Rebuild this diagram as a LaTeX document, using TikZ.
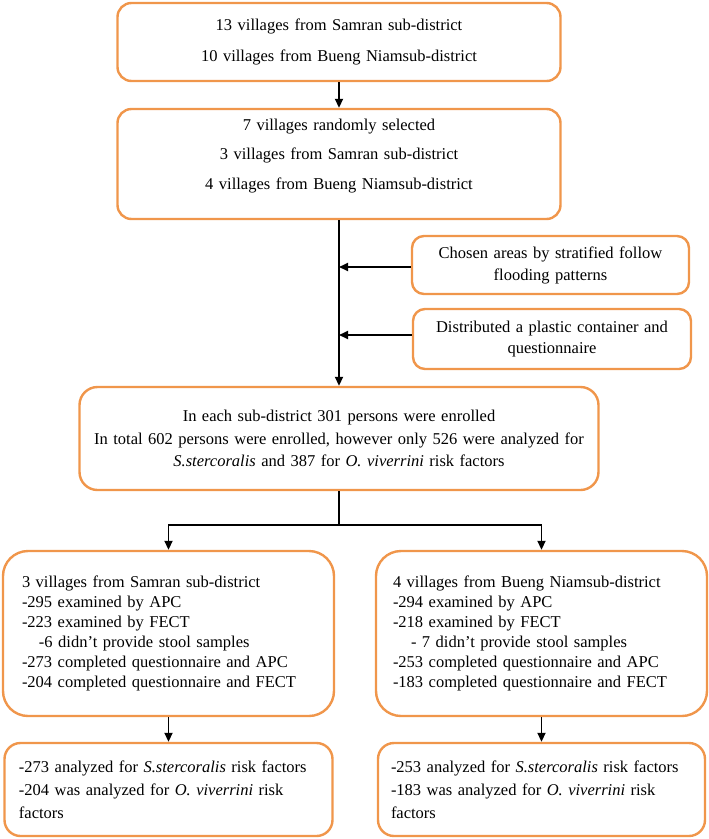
\documentclass[tikz,border=0pt]{standalone}
\usepackage{fontspec}
\setmainfont{Liberation Serif}
\usetikzlibrary{arrows.meta}
\definecolor{boxorange}{RGB}{240,150,75}
\begin{document}
\begin{tikzpicture}[x=1pt,y=-1pt,
  box/.style={draw=boxorange, line width=2.4pt, fill=white, inner sep=0pt, align=center},
  conn/.style={line width=1.8pt, draw=black},
  arr/.style={conn, -{Triangle[length=9pt,width=8pt]}}]
\useasboundingbox (0,0) rectangle (709,839);

\node[box, rounded corners=14pt, minimum width=443pt, minimum height=78pt, text width=420pt,
  font=\fontsize{16.5}{31}\selectfont] (b1) at (339,42)
  {13 villages from Samran sub-district\\10 villages from Bueng Niamsub-district};

\node[box, rounded corners=14pt, minimum width=443pt, minimum height=110pt, text width=420pt,
  font=\fontsize{16.5}{29.5}\selectfont] (b2) at (339,164)
  {7 villages randomly selected\\3 villages from Samran sub-district\\4 villages from Bueng Niamsub-district\\[-9.5pt]~};

\node[box, rounded corners=12pt, minimum width=277pt, minimum height=58pt, text width=265pt,
  font=\fontsize{16.5}{22}\selectfont] (s1) at (550.5,265)
  {Chosen areas by stratified follow\\flooding patterns};

\node[box, rounded corners=12pt, minimum width=278pt, minimum height=60pt, text width=266pt,
  font=\fontsize{16.5}{21}\selectfont] (s2) at (552,339)
  {Distributed a plastic container and\\questionnaire};

\node[box, rounded corners=18pt, minimum width=519pt, minimum height=103pt, text width=505pt,
  font=\fontsize{16.5}{22.5}\selectfont] (b3) at (339,438.5)
  {In each sub-district 301 persons were enrolled\\In total 602 persons were enrolled, however only 526 were analyzed for\\\textit{S.stercoralis} and 387 for \textit{O. viverrini} risk factors};

\node[box, rounded corners=25pt, minimum width=331pt, minimum height=165pt, text width=293pt, align=left,
  font=\fontsize{16.5}{20.1}\selectfont] (ml) at (168.5,633.5)
  {3 villages from Samran sub-district\\-295 examined by APC\\-223 examined by FECT\\\hspace*{17pt}-6 didn't provide stool samples\\-273 completed questionnaire and APC\\-204 completed questionnaire and FECT};

\node[box, rounded corners=25pt, minimum width=331pt, minimum height=165pt, text width=297pt, align=left,
  font=\fontsize{16.5}{20.1}\selectfont] (mr) at (541.5,633.5)
  {4 villages from Bueng Niamsub-district\\-294 examined by APC\\-218 examined by FECT\\\hspace*{18pt}- 7 didn't provide stool samples\\-253 completed questionnaire and APC\\-183 completed questionnaire and FECT};

\node[box, rounded corners=16pt, minimum width=328pt, minimum height=93pt, text width=299pt, align=left,
  font=\fontsize{16.5}{23}\selectfont] (bl) at (168.5,789.5)
  {-273 analyzed for \textit{S.stercoralis} risk factors\\-204 was analyzed for \textit{O. viverrini} risk\\factors};

\node[box, rounded corners=16pt, minimum width=327pt, minimum height=93pt, text width=301pt, align=left,
  font=\fontsize{16.5}{23}\selectfont] (br) at (541.5,789.5)
  {-253 analyzed for \textit{S.stercoralis} risk factors\\-183 was analyzed for \textit{O. viverrini} risk\\factors};

\draw[arr] (b1.south) -- (b2.north);
\draw[arr] (b2.south) -- (b3.north);
\path ([yshift=-2pt]s1.west) coordinate (s1w);
\path ([yshift=4pt]s2.west) coordinate (s2w);
\draw[arr] (s1w) -- (s1w -| b2.south);
\draw[arr] (s2w) -- (s2w -| b2.south);
\coordinate (fork) at (339,525);
\draw[conn] (b3.south) -- (fork);
\draw[arr] (fork) -| (ml.north);
\draw[arr] (fork) -| (mr.north);
\draw[arr] (ml.south) -- (bl.north);
\draw[arr] (mr.south) -- (br.north);
\end{tikzpicture}
\end{document}
